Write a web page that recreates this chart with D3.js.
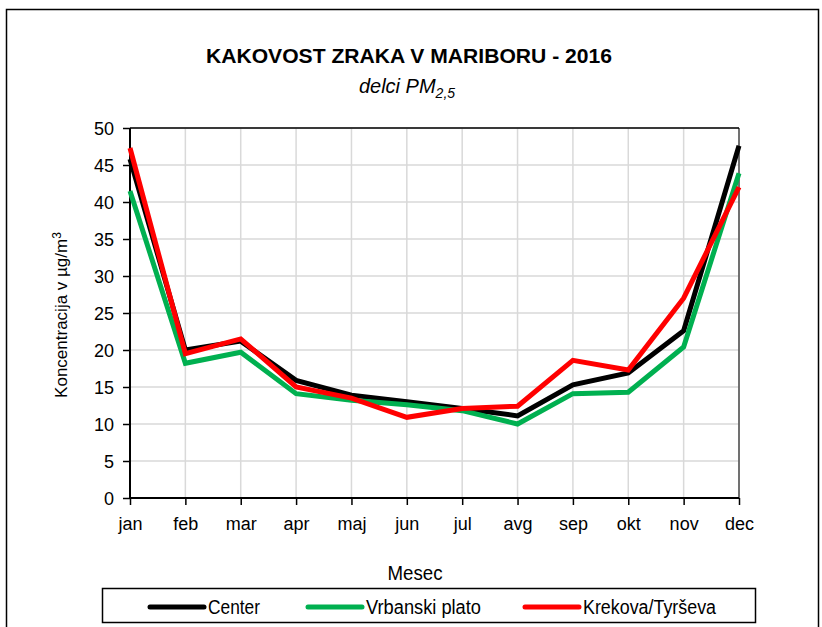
<!DOCTYPE html>
<html>
<head>
<meta charset="utf-8">
<script src="https://cdn.jsdelivr.net/npm/d3@7"></script>
<style>
body{margin:0;background:#fff;}
text{font-family:"Liberation Sans",Arial,sans-serif;fill:#000;}
</style>
</head>
<body>
<svg id="chart" width="822" height="627"></svg>
<script>
// month labels on x axis
var months = ['jan','feb','mar','apr','maj','jun','jul','avg','sep','okt','nov','dec'];
var yTicks = [0,5,10,15,20,25,30,35,40,45,50];

// monthly PM2.5 means
var center    = [45.8, 20.0, 21.2, 15.9, 13.9, 13.0, 12.1, 11.1, 15.3, 16.9, 22.6, 47.6];
var vrbanski  = [41.5, 18.2, 19.7, 14.1, 13.2, 12.6, 11.8, 10.0, 14.1, 14.3, 20.4, 43.9];
var krekova   = [47.3, 19.5, 21.5, 15.0, 13.5, 10.9, 12.1, 12.4, 18.6, 17.3, 27.0, 42.0];

var seriesNames = ['Center','Vrbanski plato','Krekova/Tyrševa'];
var seriesColors = ['#000000','#00b050','#ff0000'];
var seriesData = [center, vrbanski, krekova];

var svg = d3.select('#chart');

// plot area
var pLeft = 130, pRight = 739, pTop = 128, pBottom = 498;

var x = d3.scalePoint().domain(months).range([pLeft, pRight]);
var y = d3.scaleLinear().domain([0,50]).range([pBottom, pTop]);

// outer chart border
svg.append('rect')
  .attr('x',6.5).attr('y',9.5).attr('width',812).attr('height',640)
  .attr('fill','none').attr('stroke','#000').attr('stroke-width',1.5);

// title
svg.append('text')
  .attr('x',409).attr('y',63)
  .attr('text-anchor','middle')
  .style('font-size','21px').style('font-weight','bold')
  .attr('textLength',406).attr('lengthAdjust','spacingAndGlyphs')
  .text('KAKOVOST ZRAKA V MARIBORU - 2016');

var sub = svg.append('text')
  .attr('x',407).attr('y',93)
  .attr('text-anchor','middle')
  .style('font-size','20px').style('font-style','italic');
sub.append('tspan').text('delci PM');
sub.append('tspan').attr('dy',5).style('font-size','14px').text('2,5');

// grid
var g = svg.append('g');
g.selectAll('.hg').data(yTicks.slice(1)).enter().append('line')
  .attr('x1',pLeft).attr('x2',pRight)
  .attr('y1',function(d){return y(d);}).attr('y2',function(d){return y(d);})
  .attr('stroke','#d9d9d9').attr('stroke-width',1.5);
g.selectAll('.vg').data(months.slice(1)).enter().append('line')
  .attr('y1',pTop).attr('y2',pBottom)
  .attr('x1',function(d){return x(d);}).attr('x2',function(d){return x(d);})
  .attr('stroke','#d9d9d9').attr('stroke-width',1.5);

// plot frame (top and right)
svg.append('line').attr('x1',pLeft).attr('x2',pRight).attr('y1',pTop).attr('y2',pTop)
  .attr('stroke','#000').attr('stroke-width',1.5);
svg.append('line').attr('x1',pRight).attr('x2',pRight).attr('y1',pTop).attr('y2',pBottom)
  .attr('stroke','#000').attr('stroke-width',1);

// axes
var yAxis = d3.axisLeft(y).tickValues(yTicks).tickSize(7).tickPadding(9);
var yg = svg.append('g').attr('transform','translate(' + pLeft + ',0)').call(yAxis);
var xAxis = d3.axisBottom(x).tickSize(7).tickPadding(12);
var xg = svg.append('g').attr('transform','translate(0,' + pBottom + ')').call(xAxis);

[yg, xg].forEach(function(a){
  a.select('.domain').attr('stroke','#000').attr('stroke-width',2);
  a.selectAll('.tick line').attr('stroke','#000').attr('stroke-width',1.5);
  a.selectAll('.tick text').style('font-size','18px')
   .style('font-family','"Liberation Sans",Arial,sans-serif');
});
yg.selectAll('.tick text').attr('dy','0.35em');
xg.select('.domain').attr('d','M' + pLeft + ',0H' + pRight);
yg.select('.domain').attr('d','M0,' + pTop + 'V' + pBottom);

// axis titles
svg.append('text')
  .attr('x',415).attr('y',580)
  .attr('text-anchor','middle')
  .style('font-size','20px')
  .attr('textLength',55).attr('lengthAdjust','spacingAndGlyphs')
  .text('Mesec');

var yt = svg.append('text')
  .attr('transform','translate(67,315) rotate(-90)')
  .attr('text-anchor','middle')
  .style('font-size','17px');
yt.append('tspan').text('Koncentracija v  µg/m');
yt.append('tspan').attr('dy',-6).style('font-size','12px').text('3');

// lines
var line = d3.line()
  .x(function(d,i){return x(months[i]);})
  .y(function(d){return y(d);});

seriesData.forEach(function(s,i){
  svg.append('path')
    .datum(s)
    .attr('d',line)
    .attr('fill','none')
    .attr('stroke',seriesColors[i])
    .attr('stroke-width',5)
    .attr('stroke-linejoin','miter');
});

// legend
svg.append('rect')
  .attr('x',102.5).attr('y',588.5).attr('width',653).attr('height',34)
  .attr('fill','#fff').attr('stroke','#000').attr('stroke-width',1.5);

var legX = [150, 308, 525];
var legW = [52, 115, 133];
seriesNames.forEach(function(n,i){
  svg.append('line')
    .attr('x1',legX[i]).attr('x2',legX[i] + 54)
    .attr('y1',607).attr('y2',607)
    .attr('stroke',seriesColors[i]).attr('stroke-width',5)
    .attr('stroke-linecap','round');
  svg.append('text')
    .attr('x',legX[i] + 58).attr('y',614)
    .style('font-size','20px')
    .attr('textLength',legW[i]).attr('lengthAdjust','spacingAndGlyphs')
    .text(n);
});
</script>
</body>
</html>
